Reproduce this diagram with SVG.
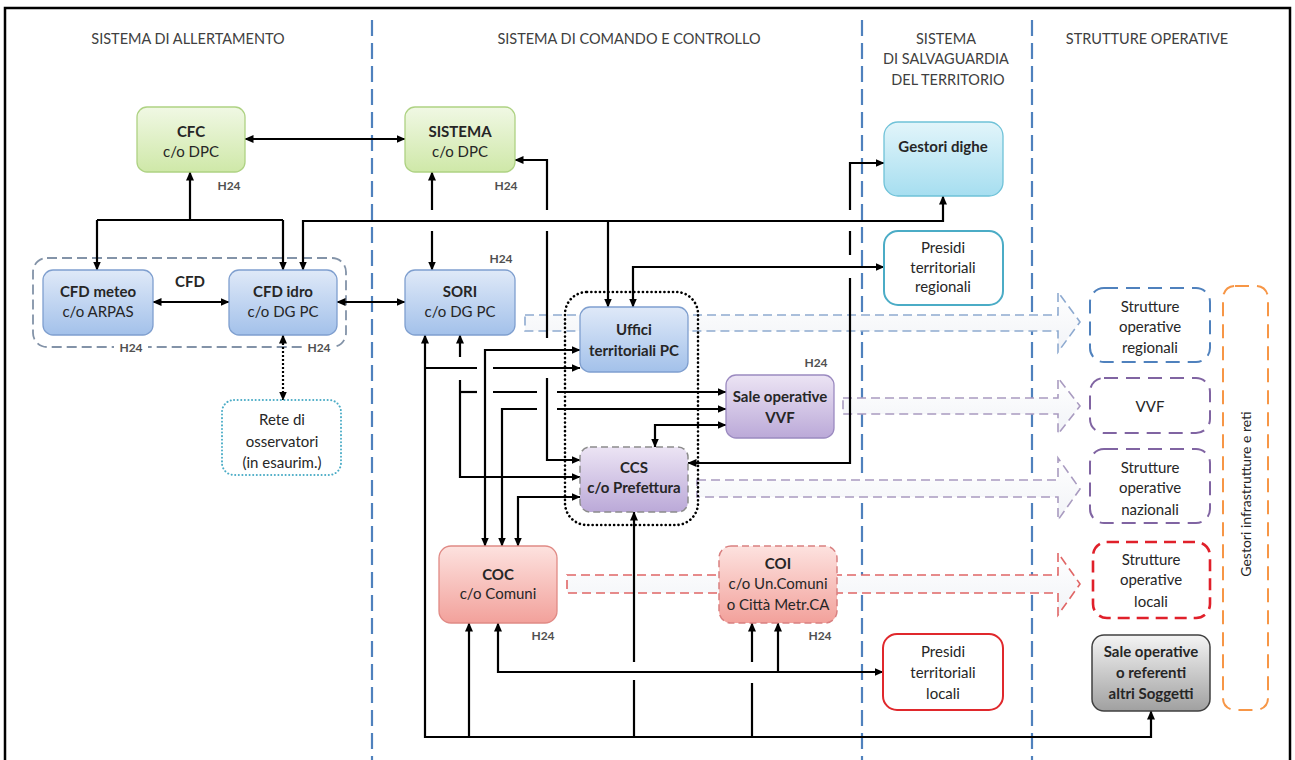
<svg xmlns="http://www.w3.org/2000/svg" width="1295" height="760" viewBox="0 0 1295 760">
<style>
.hdr{font-family:Lato,"Liberation Sans",sans-serif;font-size:14.5px;fill:#404040;text-anchor:middle}
.t{font-family:Lato,"Liberation Sans",sans-serif;font-size:15px;fill:#262626;text-anchor:middle}
.b{font-weight:bold}
.r{font-size:14px}
.h24{font-family:Lato,"Liberation Sans",sans-serif;font-size:12px;font-weight:bold;fill:#505050;text-anchor:middle}
.cn{fill:none;stroke:#000;stroke-width:2.2}
.dv{stroke:#4f81bd;stroke-width:2.2;stroke-dasharray:16 7}
.wa{stroke-width:1.6;stroke-dasharray:9 5}
</style>
<defs>
<marker id="ar" viewBox="0 0 9 8" refX="8.5" refY="4" markerWidth="9" markerHeight="8" markerUnits="userSpaceOnUse" orient="auto-start-reverse"><path d="M0,0 L9,4 L0,8 Z" fill="#000"/></marker>
<linearGradient id="gG" x1="0" y1="0" x2="0" y2="1"><stop offset="0" stop-color="#f0f8e4"/><stop offset="1" stop-color="#cfe8a8"/></linearGradient>
<linearGradient id="gB" x1="0" y1="0" x2="0" y2="1"><stop offset="0" stop-color="#dfe9f8"/><stop offset="1" stop-color="#a3c1ea"/></linearGradient>
<linearGradient id="gC" x1="0" y1="0" x2="0" y2="1"><stop offset="0" stop-color="#e2f5fa"/><stop offset="1" stop-color="#a6def0"/></linearGradient>
<linearGradient id="gP" x1="0" y1="0" x2="0" y2="1"><stop offset="0" stop-color="#ece4f4"/><stop offset="1" stop-color="#bba9d8"/></linearGradient>
<linearGradient id="gR" x1="0" y1="0" x2="0" y2="1"><stop offset="0" stop-color="#fde2df"/><stop offset="1" stop-color="#f2a19b"/></linearGradient>
<linearGradient id="gK" x1="0" y1="0" x2="0" y2="1"><stop offset="0" stop-color="#f4f4f4"/><stop offset="1" stop-color="#a0a0a0"/></linearGradient>
<linearGradient id="gW" x1="0" y1="0" x2="0" y2="1"><stop offset="0" stop-color="#ffffff"/><stop offset="1" stop-color="#f1f3f7"/></linearGradient>
</defs>
<rect width="1295" height="760" fill="#fff"/>
<rect x="5" y="8" width="1285" height="770" fill="none" stroke="#000" stroke-width="2.5"/>

<g id="dividers">
<line class="dv" x1="372" y1="20" x2="372" y2="760"/>
<line class="dv" x1="862" y1="20" x2="862" y2="760"/>
<line class="dv" x1="1032" y1="20" x2="1032" y2="760"/>
</g>

<g id="headers">
<text class="hdr" x="188" y="44">SISTEMA DI ALLERTAMENTO</text>
<text class="hdr" x="629" y="44">SISTEMA DI COMANDO E CONTROLLO</text>
<text class="hdr" x="946" y="44">SISTEMA</text>
<text class="hdr" x="946" y="64">DI SALVAGUARDIA</text>
<text class="hdr" x="948" y="85">DEL TERRITORIO</text>
<text class="hdr" x="1147" y="44">STRUTTURE OPERATIVE</text>
</g>

<g id="wide-arrows">
<path class="wa" d="M525,315 H1058 V292 L1080,322 L1058,352 V331 H525 Z" fill="url(#gW)" stroke="#8eaad0"/>
<path class="wa" d="M843,398 H1058 V378 L1080,406 L1058,434 V414 H843 Z" fill="url(#gW)" stroke="#a99bc0"/>
<path class="wa" d="M697,480 H1058 V458 L1080,489 L1058,520 V497 H697 Z" fill="url(#gW)" stroke="#a99bc0"/>
<path class="wa" d="M567,575 H1058 V553 L1080,584 L1058,615 V593 H567 Z" fill="url(#gW)" stroke="#e06666"/>
</g>

<g id="groups">
<rect x="33" y="258" width="313" height="89" rx="14" fill="none" stroke="#8393a8" stroke-width="1.8" stroke-dasharray="10 5"/>
<rect x="114" y="341" width="34" height="13" fill="#fff"/>
<rect x="302" y="341" width="34" height="13" fill="#fff"/>
<text class="h24" x="131" y="352">H24</text>
<text class="h24" x="319" y="352">H24</text>
<text class="t b" x="190" y="287">CFD</text>
<rect x="565" y="292" width="133" height="233" rx="22" fill="none" stroke="#000" stroke-width="2.6" stroke-dasharray="0.1 4.2" stroke-linecap="round"/>
</g>

<g id="connectors">
<path class="cn" d="M245,139 H405" marker-start="url(#ar)" marker-end="url(#ar)"/>
<path class="cn" d="M190,220 V172" marker-end="url(#ar)"/>
<path class="cn" d="M97,220 H283"/>
<path class="cn" d="M97,220 V270" marker-end="url(#ar)"/>
<path class="cn" d="M283,220 V270" marker-end="url(#ar)"/>
<path class="cn" d="M303,270 V221 H943 V196" marker-start="url(#ar)" marker-end="url(#ar)"/>
<path class="cn" d="M608,221 V307" marker-end="url(#ar)"/>
<path class="cn" d="M432,172 V210" marker-start="url(#ar)"/>
<path class="cn" d="M432,231 V270" marker-end="url(#ar)"/>
<path class="cn" d="M153,302 H229" marker-start="url(#ar)" marker-end="url(#ar)"/>
<path class="cn" d="M337,302 H405" marker-start="url(#ar)" marker-end="url(#ar)"/>
<path class="cn" d="M283,335 V400" stroke-dasharray="2 2" marker-start="url(#ar)" marker-end="url(#ar)"/>
<path class="cn" d="M515,160 H547 V210" marker-start="url(#ar)"/>
<path class="cn" d="M547,231 V338"/>
<path class="cn" d="M547,378 V460 H580" marker-end="url(#ar)"/>
<path class="cn" d="M633,307 V267 H884" marker-start="url(#ar)" marker-end="url(#ar)"/>
<path class="cn" d="M688,463 H850 V278" marker-start="url(#ar)"/>
<path class="cn" d="M850,255 V231"/>
<path class="cn" d="M850,210 V163 H884" marker-end="url(#ar)"/>
<path class="cn" d="M425,335 V737 H1151 V711" marker-start="url(#ar)" marker-end="url(#ar)"/>
<path class="cn" d="M425,368 H477"/>
<path class="cn" d="M493,368 H580" marker-end="url(#ar)"/>
<path class="cn" d="M460,335 V357" marker-start="url(#ar)"/>
<path class="cn" d="M460,380 V477 H580" marker-end="url(#ar)"/>
<path class="cn" d="M460,392 H477"/>
<path class="cn" d="M493,392 H537"/>
<path class="cn" d="M557,392 H726" marker-end="url(#ar)"/>
<path class="cn" d="M580,350 H485 V546" marker-start="url(#ar)" marker-end="url(#ar)"/>
<path class="cn" d="M726,409 H557" marker-start="url(#ar)"/>
<path class="cn" d="M537,409 H502 V546" marker-end="url(#ar)"/>
<path class="cn" d="M580,497 H518 V546" marker-start="url(#ar)" marker-end="url(#ar)"/>
<path class="cn" d="M726,425 H655 V447" marker-start="url(#ar)" marker-end="url(#ar)"/>
<path class="cn" d="M469,737 V623" marker-end="url(#ar)"/>
<path class="cn" d="M498,623 V672 H883" marker-start="url(#ar)" marker-end="url(#ar)"/>
<path class="cn" d="M778,672 V623" marker-end="url(#ar)"/>
<path class="cn" d="M634,737 V680"/>
<path class="cn" d="M634,662 V512" marker-end="url(#ar)"/>
<path class="cn" d="M752,737 V683"/>
<path class="cn" d="M752,662 V623" marker-end="url(#ar)"/>
</g>

<g id="cfc">
<rect x="137" y="107" width="108" height="65" rx="10" fill="url(#gG)" stroke="#aed283" stroke-width="1.3"/>
<text class="t b" x="191" y="137">CFC</text>
<text class="t" x="191" y="157">c/o DPC</text>
<text class="h24" x="229" y="190">H24</text>
</g>
<g id="sistema">
<rect x="405" y="107" width="110" height="65" rx="10" fill="url(#gG)" stroke="#aed283" stroke-width="1.3"/>
<text class="t b" x="460" y="137">SISTEMA</text>
<text class="t" x="460" y="157">c/o DPC</text>
<text class="h24" x="506" y="190">H24</text>
</g>
<g id="gestori-dighe">
<rect x="884" y="122" width="119" height="74" rx="14" fill="url(#gC)" stroke="#6fc2d8" stroke-width="1.3"/>
<text class="t b" x="943" y="152">Gestori  dighe</text>
</g>
<g id="presidi-regionali">
<rect x="884" y="231" width="119" height="74" rx="14" fill="#fff" stroke="#4bacc6" stroke-width="2"/>
<text class="t" x="943" y="253">Presidi</text>
<text class="t" x="943" y="273">territoriali</text>
<text class="t" x="943" y="292">regionali</text>
</g>
<g id="cfd-meteo">
<rect x="43" y="270" width="110" height="65" rx="10" fill="url(#gB)" stroke="#7f9fcf" stroke-width="1.3"/>
<text class="t b" x="98" y="297">CFD meteo</text>
<text class="t" x="98" y="317">c/o ARPAS</text>
</g>
<g id="cfd-idro">
<rect x="229" y="270" width="108" height="65" rx="10" fill="url(#gB)" stroke="#7f9fcf" stroke-width="1.3"/>
<text class="t b" x="283" y="297">CFD idro</text>
<text class="t" x="283" y="317">c/o DG PC</text>
</g>
<g id="rete">
<rect x="222" y="400" width="119" height="75" rx="12" fill="#fff" stroke="#4bacc6" stroke-width="2" stroke-dasharray="0.1 3.5" stroke-linecap="round"/>
<text class="t" x="282" y="425">Rete di</text>
<text class="t" x="282" y="447">osservatori</text>
<text class="t" x="282" y="468">(in esaurim.)</text>
</g>
<g id="sori">
<rect x="405" y="270" width="110" height="65" rx="10" fill="url(#gB)" stroke="#7f9fcf" stroke-width="1.3"/>
<text class="t b" x="460" y="297">SORI</text>
<text class="t" x="460" y="317">c/o DG PC</text>
<text class="h24" x="501" y="263">H24</text>
</g>
<g id="uffici">
<rect x="580" y="307" width="108" height="65" rx="10" fill="url(#gB)" stroke="#7f9fcf" stroke-width="1.3"/>
<text class="t b" x="634" y="335">Uffici</text>
<text class="t b" x="634" y="356">territoriali  PC</text>
</g>
<g id="sale-vvf">
<rect x="726" y="375" width="108" height="63" rx="10" fill="url(#gP)" stroke="#9b8ac0" stroke-width="1.3"/>
<text class="t b" x="780" y="402">Sale operative</text>
<text class="t b" x="780" y="423">VVF</text>
<text class="h24" x="816" y="367">H24</text>
</g>
<g id="ccs">
<rect x="580" y="447" width="108" height="65" rx="10" fill="url(#gP)" stroke="#8c8c8c" stroke-width="1.5" stroke-dasharray="7 4"/>
<text class="t b" x="634" y="473">CCS</text>
<text class="t b" x="634" y="493">c/o Prefettura</text>
</g>
<g id="coc">
<rect x="439" y="546" width="118" height="77" rx="12" fill="url(#gR)" stroke="#e08a85" stroke-width="1.3"/>
<text class="t b" x="498" y="580">COC</text>
<text class="t" x="498" y="599">c/o Comuni</text>
<text class="h24" x="543" y="640">H24</text>
</g>
<g id="coi">
<rect x="719" y="546" width="118" height="77" rx="12" fill="url(#gR)" stroke="#d98080" stroke-width="1.5" stroke-dasharray="7 4"/>
<text class="t b" x="778" y="569">COI</text>
<text class="t" x="778" y="589">c/o Un.Comuni</text>
<text class="t" x="778" y="610">o Città Metr.CA</text>
<text class="h24" x="820" y="640">H24</text>
</g>
<g id="presidi-locali">
<rect x="883" y="634" width="120" height="76" rx="14" fill="#fff" stroke="#e0282c" stroke-width="2"/>
<text class="t" x="943" y="657">Presidi</text>
<text class="t" x="943" y="678">territoriali</text>
<text class="t" x="943" y="699">locali</text>
</g>
<g id="so-regionali">
<rect x="1090" y="288" width="120" height="74" rx="14" fill="#fff" stroke="#4f81bd" stroke-width="2" stroke-dasharray="14 8"/>
<text class="t" x="1150" y="312">Strutture</text>
<text class="t" x="1150" y="332">operative</text>
<text class="t" x="1150" y="353">regionali</text>
</g>
<g id="so-vvf">
<rect x="1090" y="378" width="120" height="55" rx="14" fill="#fff" stroke="#8064a2" stroke-width="2" stroke-dasharray="14 8"/>
<text class="t" x="1150" y="412">VVF</text>
</g>
<g id="so-nazionali">
<rect x="1090" y="449" width="120" height="74" rx="14" fill="#fff" stroke="#8064a2" stroke-width="2" stroke-dasharray="14 8"/>
<text class="t" x="1150" y="473">Strutture</text>
<text class="t" x="1150" y="493">operative</text>
<text class="t" x="1150" y="515">nazionali</text>
</g>
<g id="so-locali">
<rect x="1093" y="542" width="117" height="76" rx="14" fill="#fff" stroke="#e0202a" stroke-width="2.6" stroke-dasharray="12 7"/>
<text class="t" x="1151" y="565">Strutture</text>
<text class="t" x="1151" y="585">operative</text>
<text class="t" x="1151" y="607">locali</text>
</g>
<g id="altri-soggetti">
<rect x="1092" y="635" width="118" height="76" rx="12" fill="url(#gK)" stroke="#404040" stroke-width="1.5"/>
<text class="t b" x="1151" y="657">Sale operative</text>
<text class="t b" x="1151" y="678">o referenti</text>
<text class="t b" x="1151" y="699">altri Soggetti</text>
</g>
<g id="gestori-infrastrutture">
<rect x="1223" y="286" width="45" height="424" rx="12" fill="none" stroke="#f79646" stroke-width="2" stroke-dasharray="14 8"/>
<text class="t r" transform="translate(1251,494) rotate(-90)" x="0" y="0">Gestori infrastrutture e reti</text>
</g>
</svg>
